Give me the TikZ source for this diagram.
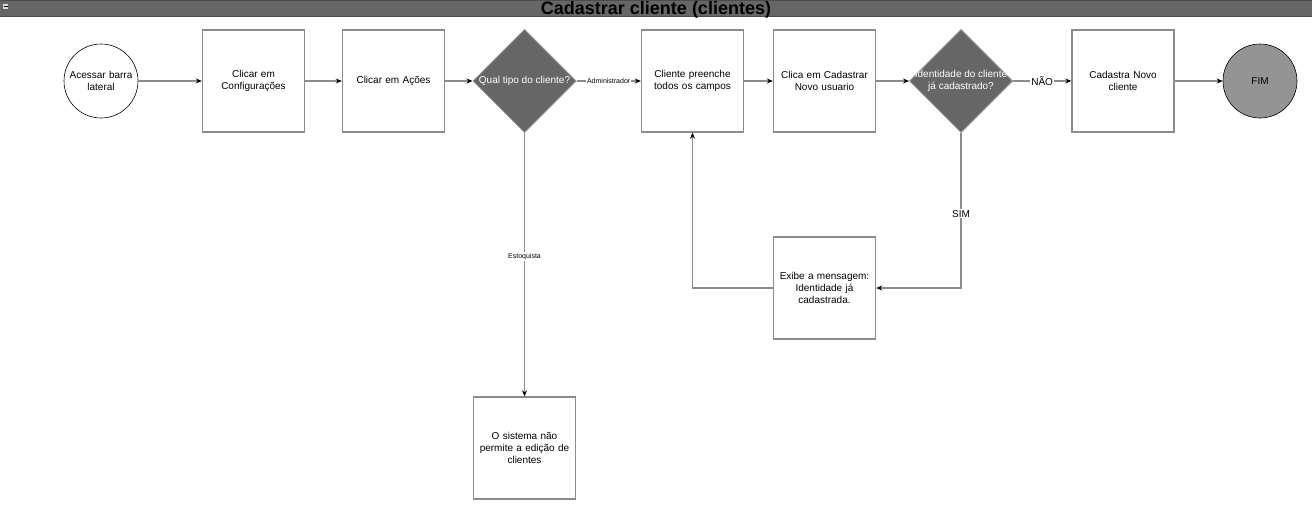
\documentclass[tikz,border=0pt]{standalone}
\usepackage{fontspec}
\setmainfont{Liberation Sans}
\usetikzlibrary{shapes.geometric,arrows.meta}
\definecolor{bar}{HTML}{666666}
\definecolor{edge}{HTML}{8C8C8C}
\begin{document}
\begin{tikzpicture}[x=1pt,y=-1pt,
  every node/.style={font=\fontsize{10}{12}\selectfont, align=center},
  boxstyle/.style={draw=edge, line width=1.4pt, fill=white, minimum width=102pt, minimum height=102pt, text width=96pt, inner sep=0pt},
  decstyle/.style={diamond, draw=edge, line width=1pt, fill=bar, minimum width=103pt, minimum height=103pt, aspect=1, inner sep=0pt},
  dectext/.style={text=white, inner sep=0pt},
  roundstyle/.style={circle, draw=black, line width=0.6pt, minimum size=74pt, inner sep=0pt, text width=70pt},
  conn/.style={draw=edge, line width=1.3pt, -{Stealth[length=6pt,width=5pt,black]}},
  lab/.style={fill=white, inner sep=1pt}]
\useasboundingbox (0,0) rectangle (1312,509);
% title bar
\fill[bar] (0,0) rectangle (1312,17);
\draw[black!70, line width=0.8pt] (0,16.5) -- (1312,16.5);
\draw[black!70, line width=0.6pt] (0,0.3) -- (1312,0.3);
\node[draw=black!60, fill=black!15, minimum width=6pt, minimum height=6pt, inner sep=0pt] (icon) at (5.5,6) {};
\draw[black, line width=1pt] (3.5,6) -- (7.5,6);
\node[font=\fontsize{18}{20}\selectfont\bfseries] (title) at (656,9.5) {Cadastrar cliente (clientes)};
% nodes
\node[roundstyle] (start) at (101,81) {Acessar barra\\lateral};
\node[boxstyle] (conf) at (253.5,81) {Clicar em\\Configurações};
\node[boxstyle] (acoes) at (393.5,81) {Clicar em Ações};
\node[decstyle] (tipo) at (524.5,81) {};
\node[dectext] (tipot) at (tipo.center) {Qual tipo do cliente?};
\node[boxstyle] (preenche) at (692.5,81) {Cliente preenche\\todos os campos};
\node[boxstyle] (clica) at (824.5,81) {Clica em Cadastrar\\Novo usuario};
\node[decstyle] (ident) at (961,81) {};
\node[dectext] (identt) at (ident.center) {Identidade do cliente\\já cadastrado?};
\node[boxstyle] (novo) at (1123,81) {Cadastra Novo\\cliente};
\node[circle, draw=black, line width=0.6pt, fill=black!42, minimum size=74pt, inner sep=0pt] (fim) at (1260,81) {FIM};
\node[boxstyle] (exibe) at (824.5,288) {Exibe a mensagem:\\Identidade já\\cadastrada.};
\node[boxstyle] (sistema) at (524.5,448) {O sistema não\\permite a edição de\\clientes};
% connectors
\draw[conn] (start) -- (conf);
\draw[conn] (conf) -- (acoes);
\draw[conn] (acoes) -- (tipo);
\draw[conn] (tipo) -- node[lab, font=\fontsize{7}{8}\selectfont] (ladm) {Administrador} (preenche);
\draw[conn] (preenche) -- (clica);
\draw[conn] (clica) -- (ident);
\draw[conn] (ident) -- node[lab] (lnao) {NÃO} (novo);
\draw[conn] (novo) -- (fim);
\draw[conn] (ident.south) |- node[lab, pos=0.26] (lsim) {SIM} (exibe.east);
\draw[conn] (exibe.west) -| (preenche.south);
\draw[conn] (tipo.south) -- node[lab, font=\fontsize{7}{8}\selectfont, pos=0.47] (lest) {Estoquista} (sistema.north);
\end{tikzpicture}
\end{document}
